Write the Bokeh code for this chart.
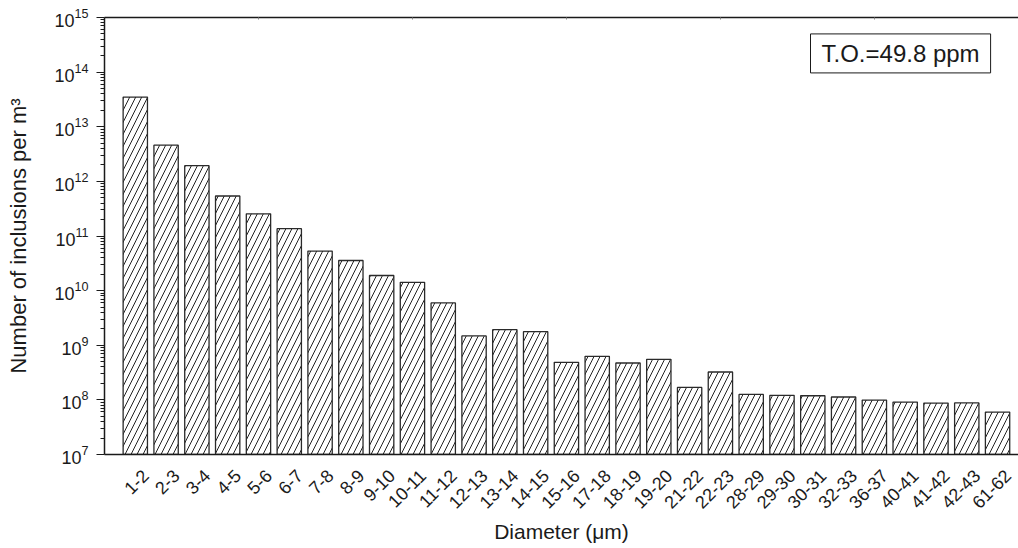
import math
from bokeh.plotting import figure
from bokeh.models import (ColumnDataSource, Range1d, FixedTicker, LinearAxis, Label)
from bokeh.embed import file_html
from bokeh.resources import INLINE

# ---- data ----
diameters = ["1-2", "2-3", "3-4", "4-5", "5-6", "6-7", "7-8", "8-9", "9-10", "10-11",
             "11-12", "12-13", "13-14", "14-15", "15-16", "17-18", "18-19", "19-20",
             "21-22", "22-23", "28-29", "29-30", "30-31", "32-33", "36-37", "40-41",
             "41-42", "42-43", "61-62"]
counts = [3.5e13, 4.6e12, 1.94e12, 5.4e11, 2.55e11, 1.36e11, 5.3e10, 3.56e10, 1.89e10, 1.42e10,
          5.96e9, 1.48e9, 1.93e9, 1.77e9, 4.86e8, 6.26e8, 4.73e8, 5.52e8,
          1.69e8, 3.24e8, 1.26e8, 1.21e8, 1.19e8, 1.13e8, 9.9e7, 9.1e7,
          8.75e7, 8.8e7, 5.98e7]
y_min, y_max = 1e7, 1e15
annotation_text = "T.O.=49.8 ppm"
x_title = "Diameter (\u03bcm)"
y_title = "Number of inclusions per m\u00b3"

positions = list(range(1, len(diameters) + 1))
src = ColumnDataSource(dict(x=positions, top=counts, label=diameters))

FONT = "Liberation Sans"
INK = "#1a1a1a"
LABEL_SHIFT = 0.33  # rotated tick labels sit slightly right of the bar centre

p = figure(width=1018, height=548, y_axis_type="log",
           x_range=Range1d(0, 29.68), y_range=Range1d(y_min, y_max),
           output_backend="svg", toolbar_location=None,
           min_border_left=104, min_border_right=0, min_border_top=17, min_border_bottom=94)
p.outline_line_color = None
p.grid.visible = False
p.background_fill_color = "white"
p.border_fill_color = "white"

p.vbar(x="x", top="top", bottom=y_min, width=0.79, source=src,
       fill_color="white", line_color="#2a2a2a", line_width=1.3,
       hatch_pattern="/", hatch_color="#222222", hatch_scale=12, hatch_weight=1)

# x axis
xa = p.xaxis[0]
label_pos = [x + LABEL_SHIFT for x in positions]
xa.ticker = FixedTicker(ticks=label_pos)
xa.major_label_overrides = {lp: d for lp, d in zip(label_pos, diameters)}
xa.major_label_orientation = math.pi / 4
xa.major_tick_out = 0
xa.major_tick_in = 0
xa.minor_tick_out = 0
xa.minor_tick_in = 0
xa.axis_line_color = INK
xa.axis_line_width = 1.5
xa.major_label_text_font = FONT
xa.major_label_text_font_size = "18px"
xa.major_label_text_color = INK
xa.major_label_standoff = 18
xa.axis_label = x_title
xa.axis_label_text_font = FONT
xa.axis_label_text_font_size = "21px"
xa.axis_label_text_font_style = "normal"
xa.axis_label_text_color = INK
xa.axis_label_standoff = 3

# y axis
ya = p.yaxis[0]
decades = [10 ** k for k in range(7, 16)]
minors = [m * 10 ** k for k in range(7, 15) for m in range(2, 10)]
ya.ticker = FixedTicker(ticks=decades, minor_ticks=minors)
ya.major_tick_out = 8
ya.major_tick_in = 0
ya.minor_tick_out = 4
ya.minor_tick_in = 0
ya.major_tick_line_color = INK
ya.minor_tick_line_color = INK
ya.major_tick_line_width = 1.2
ya.minor_tick_line_width = 1
ya.axis_line_color = INK
ya.axis_line_width = 1.5
ya.major_label_text_font = FONT
ya.major_label_text_font_size = "18px"
ya.major_label_text_color = INK
ya.major_label_standoff = 8
ya.axis_label = y_title
ya.axis_label_text_font = FONT
ya.axis_label_text_font_size = "22px"
ya.axis_label_text_font_style = "normal"
ya.axis_label_text_color = INK
ya.axis_label_standoff = 20

# top axis line with tiny ticks
top = LinearAxis(ticker=FixedTicker(ticks=[5, 10, 15, 20, 25]),
                 major_label_overrides={5: "", 10: "", 15: "", 20: "", 25: ""})
top.major_tick_in = 2
top.major_tick_out = 0
top.minor_tick_in = 0
top.minor_tick_out = 0
top.major_tick_line_color = "#888888"
top.axis_line_color = INK
top.axis_line_width = 1.5
top.major_label_text_font_size = "1px"
top.major_label_standoff = 0
p.add_layout(top, "above")

p.add_layout(Label(x=25.85, y=2.2e14, text=annotation_text, text_align="center",
                   text_baseline="middle", text_font=FONT, text_font_size="24px",
                   text_color=INK, border_line_color=INK, border_line_width=1,
                   background_fill_color="white", padding=(11, 6)))

open("out.html", "w").write(file_html(p, INLINE))
